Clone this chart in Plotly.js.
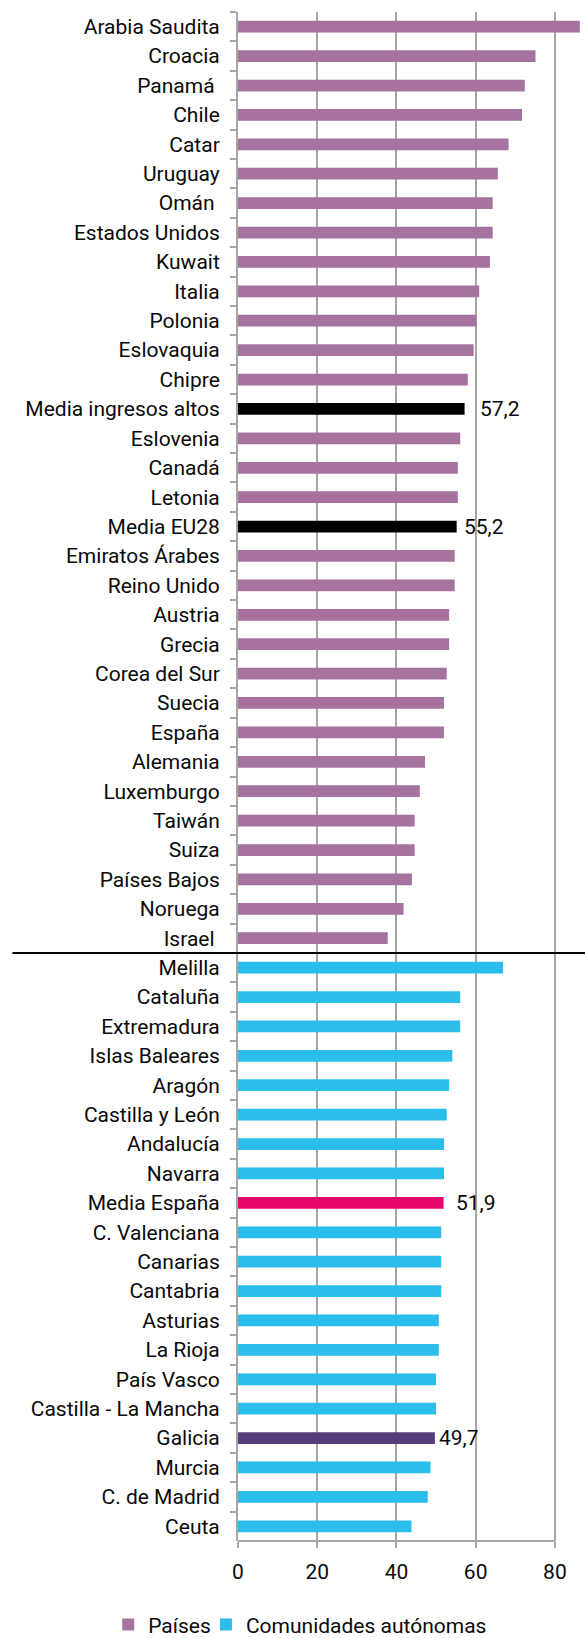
<!DOCTYPE html>
<html>
<head>
<meta charset="utf-8">
<script src="https://cdn.plot.ly/plotly-3.0.1.min.js"></script>
<style>html,body{margin:0;padding:0;background:#fff;}#chart{width:585px;height:1638px;}</style>
</head>
<body>
<div id="chart"></div>
<script>
// ---- data ----
const countries = ["Arabia Saudita","Croacia","Panamá\u00A0","Chile","Catar","Uruguay","Omán\u00A0","Estados Unidos","Kuwait","Italia","Polonia","Eslovaquia","Chipre","Media ingresos altos","Eslovenia","Canadá","Letonia","Media EU28","Emiratos Árabes","Reino Unido","Austria","Grecia","Corea del Sur","Suecia","España","Alemania","Luxemburgo","Taiwán","Suiza","Países Bajos","Noruega","Israel\u00A0"];
const countryValues = [86.3,75.1,72.4,71.7,68.3,65.6,64.3,64.3,63.6,60.9,60.2,59.5,58.0,57.2,56.1,55.5,55.5,55.2,54.7,54.7,53.3,53.3,52.7,52.0,52.0,47.2,45.9,44.6,44.6,43.9,41.8,37.8];
const regions = ["Melilla","Cataluña","Extremadura","Islas Baleares","Aragón","Castilla y León","Andalucía","Navarra","Media España","C. Valenciana","Canarias","Cantabria","Asturias","La Rioja","País Vasco","Castilla - La Mancha","Galicia","Murcia","C. de Madrid","Ceuta"];
const regionValues = [66.9,56.1,56.1,54.1,53.3,52.7,52.0,52.0,51.9,51.3,51.3,51.3,50.7,50.7,50.0,50.0,49.7,48.6,47.9,43.8];
const labeledCats = ["Media ingresos altos","Media EU28","Media España","Galicia"];
const labeledTexts = ["57,2","55,2","51,9","49,7"];
const xTicks = [0,20,40,60,80];
const seriesNames = ["Países","Comunidades autónomas"];

// ---- style ----
const colPais = "#A6739F", colCCAA = "#2BBDEB";
const highlight = {"Media ingresos altos":"#000000","Media EU28":"#000000","Media España":"#E6086A","Galicia":"#553C7D"};
const labelShift = [13,5,10,2];
const FONT = "Roboto, 'Liberation Sans', sans-serif";
const FS = 21;
const TXT = {family:FONT, size:FS, color:"#0a0a0a"};

const allCats = countries.concat(regions);
const lookup = {};
countries.forEach((c,i)=>lookup[c]=countryValues[i]);
regions.forEach((c,i)=>lookup[c]=regionValues[i]);

const traces = [
  {type:"bar", orientation:"h", name:seriesNames[0], y:countries, x:countryValues, width:0.4, legend:"legend",
   marker:{color:countries.map(c=>highlight[c]||colPais)}, hoverinfo:"none"},
  {type:"bar", orientation:"h", name:seriesNames[1], y:regions, x:regionValues, width:0.4, legend:"legend2",
   marker:{color:regions.map(c=>highlight[c]||colCCAA)}, hoverinfo:"none"}
];

const annotations = labeledCats.map((c,i)=>({
  x:lookup[c], y:c, xref:"x", yref:"y", text:labeledTexts[i], showarrow:false,
  xanchor:"left", yanchor:"middle", xshift:labelShift[i], font:TXT
}));

const legendBase = {orientation:"h", xref:"container", yref:"container", xanchor:"left", y:0.008, yanchor:"middle",
  font:TXT, itemwidth:30, bgcolor:"rgba(0,0,0,0)"};

const sepIndex = countries.length - 0.5;
const layout = {
  width:585, height:1638,
  margin:{l:238, r:0, t:12, b:97, pad:0},
  paper_bgcolor:"#fff", plot_bgcolor:"#fff",
  barmode:"overlay",
  font:TXT,
  showlegend:true,
  legend:Object.assign({}, legendBase, {x:0.185}),
  legend2:Object.assign({}, legendBase, {x:0.352}),
  xaxis:{range:[0,87.6], tickvals:xTicks, ticktext:xTicks.map(String), showgrid:true, gridcolor:"#A6A6A6", gridwidth:2,
         zeroline:false, showline:false, ticks:"outside", ticklen:6, tickwidth:2, tickcolor:"#A6A6A6",
         ticklabelstandoff:6, tickfont:TXT, fixedrange:true},
  yaxis:{type:"category", categoryorder:"array", categoryarray:allCats, autorange:"reversed",
         tickson:"boundaries", ticks:"outside", ticklen:6, tickwidth:2, tickcolor:"#A6A6A6",
         showline:true, linecolor:"#A6A6A6", linewidth:2, showgrid:false, zeroline:false,
         ticklabelstandoff:12, tickfont:TXT, fixedrange:true},
  shapes:[
    {type:"line", xref:"x", yref:"paper", x0:0, x1:80, y0:0, y1:0, line:{color:"#A6A6A6", width:2}},
    {type:"line", xref:"paper", yref:"y", x0:-0.65, x1:1, y0:sepIndex, y1:sepIndex, line:{color:"#000", width:2}}
  ],
  annotations:annotations
};

Plotly.newPlot("chart", traces, layout, {staticPlot:true, displayModeBar:false});
</script>
</body>
</html>
